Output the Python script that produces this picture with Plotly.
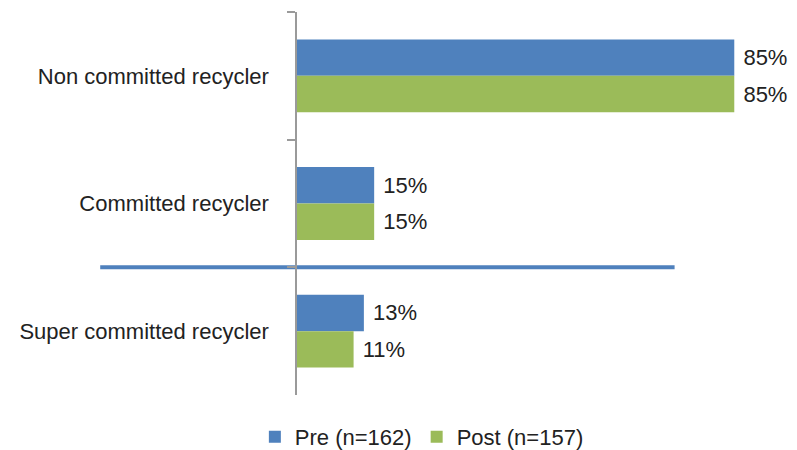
import plotly.graph_objects as go

categories = ["Non committed recycler", "Committed recycler", "Super committed recycler"]
pre_values = [85, 15, 13]
post_values = [85, 15, 11]
pre_labels = ["85%", "15%", "13%"]
post_labels = ["85%", "15%", "11%"]
series_names = ["Pre (n=162)", "Post (n=157)"]

PRE_COLOR = "#4F81BD"
POST_COLOR = "#9BBB59"
FONT = "Liberation Sans, Arial, sans-serif"
TXT = "#222222"

# the page body has an 8px margin, so the figure is sized/offset to compensate
OFF = 8
FIG_W, FIG_H = 797 - OFF, 450 - OFF
L, T = 297 - OFF, 12 - OFF
W = 463.5
H = 383
R = FIG_W - L - W
B = FIG_H - T - H

fig = go.Figure()
fig.add_trace(go.Bar(
    y=categories, x=pre_values, name=series_names[0], orientation="h",
    marker=dict(color=PRE_COLOR, line=dict(width=0)),
    text=[" " + t for t in pre_labels], textposition="outside",
    textfont=dict(size=22, color=TXT, family=FONT), cliponaxis=False,
    constraintext="none", hoverinfo="skip",
))
fig.add_trace(go.Bar(
    y=categories, x=post_values, name=series_names[1], orientation="h",
    marker=dict(color=POST_COLOR, line=dict(width=0)),
    text=[" " + t for t in post_labels], textposition="outside",
    textfont=dict(size=22, color=TXT, family=FONT), cliponaxis=False,
    constraintext="none", hoverinfo="skip",
))

fig.add_shape(
    type="line", xref="paper", yref="y",
    x0=(100 - 297) / W, x1=(675 - 297) / W, y0=1.5, y1=1.5,
    line=dict(color=PRE_COLOR, width=4), layer="below",
)

fig.update_layout(
    width=FIG_W, height=FIG_H,
    margin=dict(l=L, r=R, t=T, b=B, autoexpand=False),
    paper_bgcolor="white", plot_bgcolor="white",
    barmode="group", bargap=0.43, bargroupgap=0,
    font=dict(family=FONT, size=22, color=TXT),
    showlegend=True,
    legend=dict(
        orientation="h", xref="paper", yref="paper",
        x=(422 - 297) / W, xanchor="center",
        y=(395 - 437) / H, yanchor="middle",
        font=dict(size=22, color=TXT, family=FONT),
        itemwidth=30, itemsizing="constant",
    ),
    xaxis=dict(range=[0, 90], showgrid=False, zeroline=False,
               showline=False, showticklabels=False, ticks="",
               automargin=False),
    yaxis=dict(autorange="reversed", showline=True, linecolor="#9a9a9a",
               linewidth=1.5, ticks="outside", tickson="boundaries",
               ticklen=8, tickcolor="#9a9a9a", tickwidth=1.5,
               showgrid=False, zeroline=False, automargin=False,
               tickfont=dict(size=22, color=TXT, family=FONT),
               ticklabelstandoff=22),
)

fig.write_html("out.html")
